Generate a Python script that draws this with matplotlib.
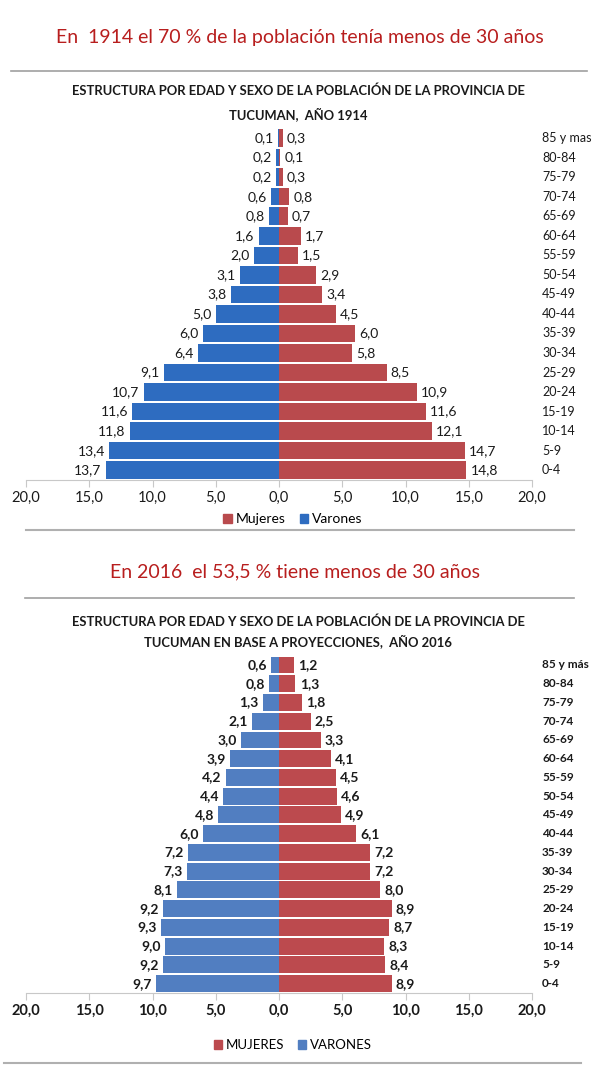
import matplotlib
matplotlib.use("Agg")
import matplotlib.pyplot as plt
from matplotlib.lines import Line2D
from matplotlib.patches import Patch
from matplotlib.transforms import blended_transform_factory

plt.rcParams["font.family"] = ["Lato", "DejaVu Sans"]

# Age groups, bottom (0-4) to top (85+)
ages_1914 = ["0-4", "5-9", "10-14", "15-19", "20-24", "25-29", "30-34", "35-39",
             "40-44", "45-49", "50-54", "55-59", "60-64", "65-69", "70-74",
             "75-79", "80-84", "85 y mas"]
varones_1914 = [13.7, 13.4, 11.8, 11.6, 10.7, 9.1, 6.4, 6.0, 5.0, 3.8, 3.1,
                2.0, 1.6, 0.8, 0.6, 0.2, 0.2, 0.1]
mujeres_1914 = [14.8, 14.7, 12.1, 11.6, 10.9, 8.5, 5.8, 6.0, 4.5, 3.4, 2.9,
                1.5, 1.7, 0.7, 0.8, 0.3, 0.1, 0.3]

ages_2016 = ages_1914[:-1] + ["85 y más"]
varones_2016 = [9.7, 9.2, 9.0, 9.3, 9.2, 8.1, 7.3, 7.2, 6.0, 4.8, 4.4, 4.2,
                3.9, 3.0, 2.1, 1.3, 0.8, 0.6]
mujeres_2016 = [8.9, 8.4, 8.3, 8.7, 8.9, 8.0, 7.2, 7.2, 6.1, 4.9, 4.6, 4.5,
                4.1, 3.3, 2.5, 1.8, 1.3, 1.2]

xticks = [-20, -15, -10, -5, 0, 5, 10, 15, 20]

W, H = 594, 1080
fig = plt.figure(figsize=(W / 100, H / 100), dpi=100)
fig.patch.set_facecolor("white")

TITLE_RED = "#B81E1E"


def fx(px):
    return px / W


def fy(py):
    return 1 - py / H


def hline(x0, x1, y, color="#A0A0A0", lw=1.2):
    fig.add_artist(Line2D([fx(x0), fx(x1)], [fy(y), fy(y)], color=color, lw=lw))


def pyramid(top_px, bottom_px, ages, men, women, blue, red, bold, legend_labels,
            legend_y, legend_size):
    ax = fig.add_axes([fx(26), fy(bottom_px), fx(532) - fx(26),
                       (bottom_px - top_px) / H])
    y = list(range(len(ages)))
    ax.barh(y, [-v for v in men], height=0.9, color=blue)
    ax.barh(y, women, height=0.9, color=red)
    ax.set_xlim(-20, 20)
    ax.set_ylim(-0.5, 17.5)
    weight = "bold" if bold else "normal"
    for i, (m, w) in enumerate(zip(men, women)):
        ax.annotate(f"{m:.1f}".replace(".", ","), (-m, i), xytext=(-3, 0),
                    textcoords="offset points", ha="right", va="center",
                    fontsize=10, fontweight=weight, color="#1a1a1a")
        ax.annotate(f"{w:.1f}".replace(".", ","), (w, i), xytext=(3, 0),
                    textcoords="offset points", ha="left", va="center",
                    fontsize=10, fontweight=weight, color="#1a1a1a")
    tr = blended_transform_factory(ax.transAxes, ax.transData)
    for i, a in enumerate(ages):
        ax.text(1.02, i, a, transform=tr, ha="left", va="center",
                fontsize=8.5 if bold else 9, fontweight=weight, color="#1a1a1a")
    ax.set_xticks(xticks)
    ax.set_xticklabels([f"{abs(t):.1f}".replace(".", ",") for t in xticks],
                       fontsize=10.5, fontweight=weight, color="#1a1a1a")
    ax.set_yticks([])
    for s in ["top", "left", "right"]:
        ax.spines[s].set_visible(False)
    ax.spines["bottom"].set_color("#C8C8C8")
    ax.tick_params(axis="x", length=5, color="#C8C8C8", pad=3)
    ax.set_facecolor("none")
    handles = [Patch(color=red, label=legend_labels[0]),
               Patch(color=blue, label=legend_labels[1])]
    fig.legend(handles=handles, loc="center", bbox_to_anchor=(fx(293), fy(legend_y)),
               ncol=2, frameon=False, fontsize=legend_size, handlelength=0.6,
               handleheight=0.6, handletextpad=0.3, columnspacing=1.0)
    return ax


# ---- 1914 ----
fig.text(fx(300), fy(37), "En  1914 el 70 % de la población tenía menos de 30 años",
         ha="center", va="center", fontsize=14, color=TITLE_RED)
hline(11, 587, 71)
fig.text(fx(298), fy(91), "ESTRUCTURA POR EDAD Y SEXO DE LA POBLACIÓN DE LA PROVINCIA DE",
         ha="center", va="center", fontsize=9.4, fontweight="bold", color="#1a1a1a")
fig.text(fx(298), fy(114), "TUCUMAN,  AÑO 1914",
         ha="center", va="center", fontsize=9.4, fontweight="bold", color="#1a1a1a")
pyramid(128.3, 480, ages_1914, varones_1914, mujeres_1914,
        "#2E6CC0", "#B94A4D", False, ["Mujeres", "Varones"], 519, 10)
hline(26, 574, 530, color="#B0B0B0", lw=1.5)

# ---- 2016 ----
fig.text(fx(295), fy(572), "En 2016  el 53,5 % tiene menos de 30 años",
         ha="center", va="center", fontsize=14, color=TITLE_RED)
hline(25, 574, 598)
fig.text(fx(298), fy(622), "ESTRUCTURA POR EDAD Y SEXO DE LA POBLACIÓN DE LA PROVINCIA DE",
         ha="center", va="center", fontsize=9.4, fontweight="bold", color="#1a1a1a")
fig.text(fx(298), fy(641), "TUCUMAN EN BASE A PROYECCIONES,  AÑO 2016",
         ha="center", va="center", fontsize=9.4, fontweight="bold", color="#1a1a1a")
pyramid(655.6, 993, ages_2016, varones_2016, mujeres_2016,
        "#517EC1", "#BC4A4E", True, ["MUJERES", "VARONES"], 1045, 9.5)
hline(4, 581, 1063, color="#B0B0B0", lw=1.5)

fig.savefig("out.png", dpi=100)
